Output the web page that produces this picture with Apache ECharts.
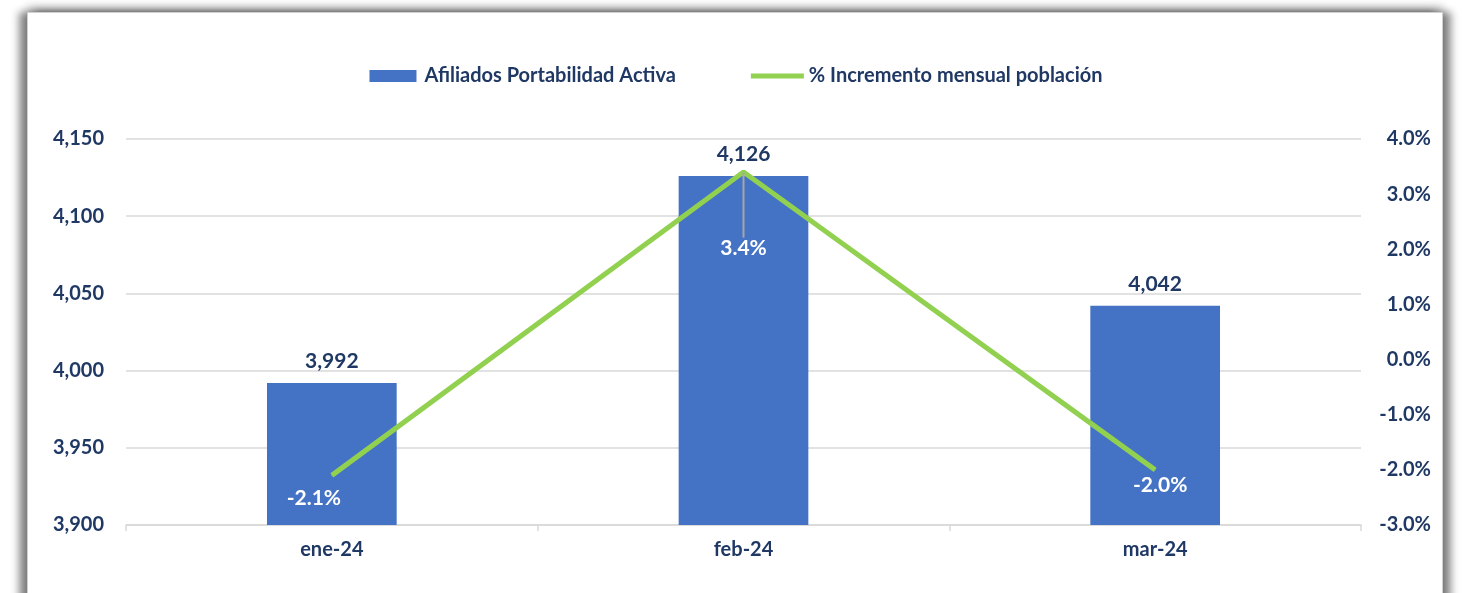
<!DOCTYPE html>
<html>
<head>
<meta charset="utf-8">
<script src="https://cdn.jsdelivr.net/npm/echarts@6/dist/echarts.min.js"></script>
<style>
  html, body { margin: 0; padding: 0; background: #fff; overflow: hidden; }
  #frame {
    position: absolute; left: 27px; top: 12px; width: 1416px; height: 600px;
    background: #fff; border: 1px solid #d0d0d0; box-sizing: border-box;
    box-shadow: -8px 0 8px rgba(0,0,0,0.45), 8px 0 8px rgba(0,0,0,0.45), 0 -6px 8px rgba(0,0,0,0.2);
  }
  #chart { width: 1416px; height: 581px; }
</style>
</head>
<body>
<div id="frame"><div id="chart"></div></div>
<script>
// --- Data ---
const months = ['ene-24', 'feb-24', 'mar-24'];
const afiliados = [3992, 4126, 4042];
const incremento = [-2.1, 3.4, -2.0];

// label offsets for the % labels (dx, dy from the point)
const pctLabelShift = [[-18, 23], [0, 76], [5, 15]];

const navy = '#1f3864';
const font = 'Lato, "Open Sans", sans-serif';

const chart = echarts.init(document.getElementById('chart'));

const option = {
    animation: false,
    textStyle: { fontFamily: font },
    legend: {
        top: 48, left: 'center', itemGap: 75,
        textStyle: { color: navy, fontSize: 20, fontWeight: 'bold', fontFamily: font },
        data: [
            { name: 'Afiliados Portabilidad Activa', icon: 'path://M0,0 H47 V12 H0 Z' },
            { name: '% Incremento mensual población', icon: 'path://M0,0 H53 V5 H0 Z' }
        ],
        itemWidth: 53, itemHeight: 12
    },
    grid: { left: 98, right: 83, top: 126, bottom: 69 },
    xAxis: {
        type: 'category', data: months,
        axisLine: { onZero: false, lineStyle: { color: '#d9d9d9', width: 1.5 } },
        axisTick: { show: true, length: 6, lineStyle: { color: '#d9d9d9', width: 1.5 } },
        axisLabel: { color: navy, fontSize: 20, fontWeight: 'bold', margin: 15, fontFamily: font }
    },
    yAxis: [
        {
            type: 'value', min: 3900, max: 4150, interval: 50,
            axisLine: { show: false }, axisTick: { show: false },
            splitLine: { lineStyle: { color: '#d9d9d9', width: 1.5 } },
            axisLabel: {
                color: navy, fontSize: 20, fontWeight: 'bold', margin: 22, fontFamily: font,
                formatter: v => v.toLocaleString('en-US')
            }
        },
        {
            type: 'value', min: -3, max: 4, interval: 1,
            axisLine: { show: false }, axisTick: { show: false }, splitLine: { show: false },
            axisLabel: {
                color: navy, fontSize: 20, fontWeight: 'bold', margin: 70, align: 'right', fontFamily: font,
                formatter: v => v.toFixed(1) + '%'
            }
        }
    ],
    series: [
        {
            name: 'Afiliados Portabilidad Activa', type: 'bar', data: afiliados,
            barWidth: '31.5%',
            itemStyle: { color: '#4472c4' },
            label: {
                show: true, position: 'top', distance: 11,
                color: navy, fontSize: 21, fontWeight: 'bold', fontFamily: font,
                formatter: p => p.value.toLocaleString('en-US')
            }
        },
        {
            name: '% Incremento mensual población', type: 'line', yAxisIndex: 1,
            data: incremento.map((v, i) => ({
                value: v,
                labelLine: { show: i === 1, lineStyle: { color: '#a6a6a6', width: 2 } }
            })),
            symbol: 'circle', symbolSize: 1, showSymbol: true, smooth: false,
            lineStyle: { color: '#92d050', width: 5 },
            itemStyle: { color: '#92d050' },
            label: {
                show: true, position: 'inside',
                color: '#fff', fontSize: 21, fontWeight: 'bold', fontFamily: font,
                formatter: p => p.value.toFixed(1) + '%'
            },
            labelLayout: p => ({ dx: pctLabelShift[p.dataIndex][0], dy: pctLabelShift[p.dataIndex][1] }),
            z: 5
        }
    ]
};

chart.setOption(option);
</script>
</body>
</html>
